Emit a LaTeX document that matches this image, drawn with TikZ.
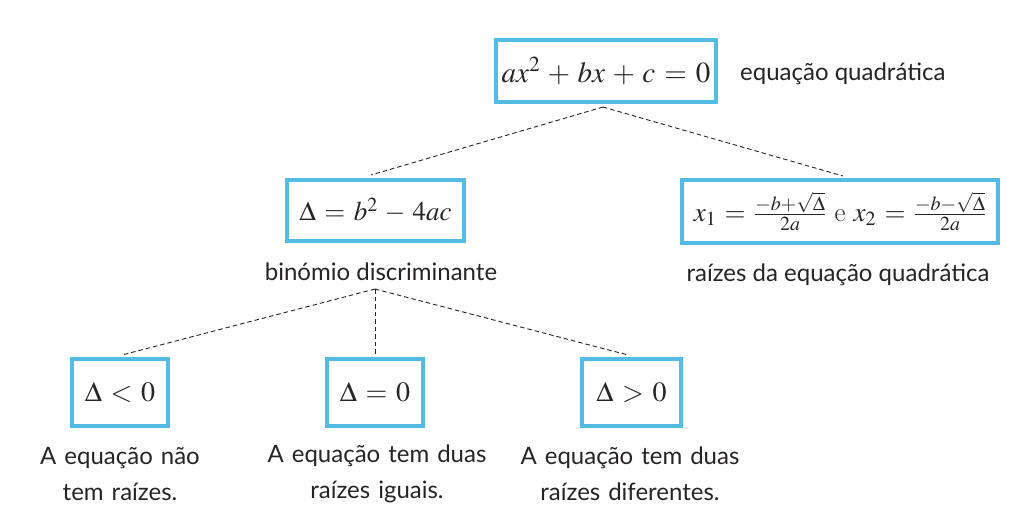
\documentclass[tikz,border=0pt]{standalone}
\usepackage[no-math]{fontspec}
\setmainfont{Lato}
\usepackage{mathptmx}
\newfontfamily\lato{Lato}
\definecolor{boxblue}{RGB}{84,188,228}
\definecolor{ink}{RGB}{40,36,36}
\medmuskip=4.6mu plus 2mu minus 2mu
\thickmuskip=5.6mu plus 3mu
\tikzset{
  mbox/.style={draw=boxblue, line width=4.5pt, fill=white, inner sep=0pt, text=ink},
  lbl/.style={text=ink, font=\lato\fontsize{24}{28}\selectfont, inner sep=0pt, align=center},
  conn/.style={draw=ink, line width=0.9pt, dash pattern=on 4.5pt off 3pt}
}
\begin{document}
\begin{tikzpicture}[x=1pt,y=-1pt]
\useasboundingbox[fill=white] (0,0) rectangle (1014,528);
\node[mbox, minimum width=220, minimum height=62] (top) at (606,71) {\fontsize{29}{30}\selectfont $ax^2+bx+c=0$};
\node[lbl, anchor=west] (topl) at (740,74) {equação quadrática};
\node[mbox, minimum width=177, minimum height=61] (disc) at (375.5,210.5) {\fontsize{27}{30}\selectfont $\Delta=b^2-4ac$};
\node[lbl] (discl) at (381,272) {binómio discriminante};
\node[mbox, minimum width=316, minimum height=63] (roots) at (840,211.5) {\fontsize{27}{30}\selectfont $x_1=\frac{-b+\sqrt{\Delta}}{2a}$ e $x_2=\frac{-b-\sqrt{\Delta}}{2a}$};
\node[lbl] (rootsl) at (838,275) {raízes da equação quadrática};
\node[mbox, minimum width=96, minimum height=67] (neg) at (120,392.5) {\fontsize{28}{30}\selectfont $\Delta<0$};
\node[mbox, minimum width=96, minimum height=67] (zero) at (375,392.5) {\fontsize{28}{30}\selectfont $\Delta=0$};
\node[mbox, minimum width=99, minimum height=67] (pos) at (631.5,392.5) {\fontsize{28}{30}\selectfont $\Delta>0$};
\node[lbl, text width=270] (negl) at (120,474) {A equação não\\[8pt] tem raízes.};
\node[lbl, text width=270] (zerol) at (377,474) {A equação tem duas\\[8pt] raízes iguais.};
\node[lbl, text width=270] (posl) at (630,474) {A equação tem duas\\[8pt] raízes diferentes.};
\coordinate (tb) at (603,107);
\coordinate (db) at (375,289);
\draw[conn] (tb) -- (371,175);
\draw[conn] (tb) -- (843,176);
\draw[conn] (db) -- (122,355);
\draw[conn] (db) -- (375,355);
\draw[conn] (db) -- (628,355);
\end{tikzpicture}
\end{document}
